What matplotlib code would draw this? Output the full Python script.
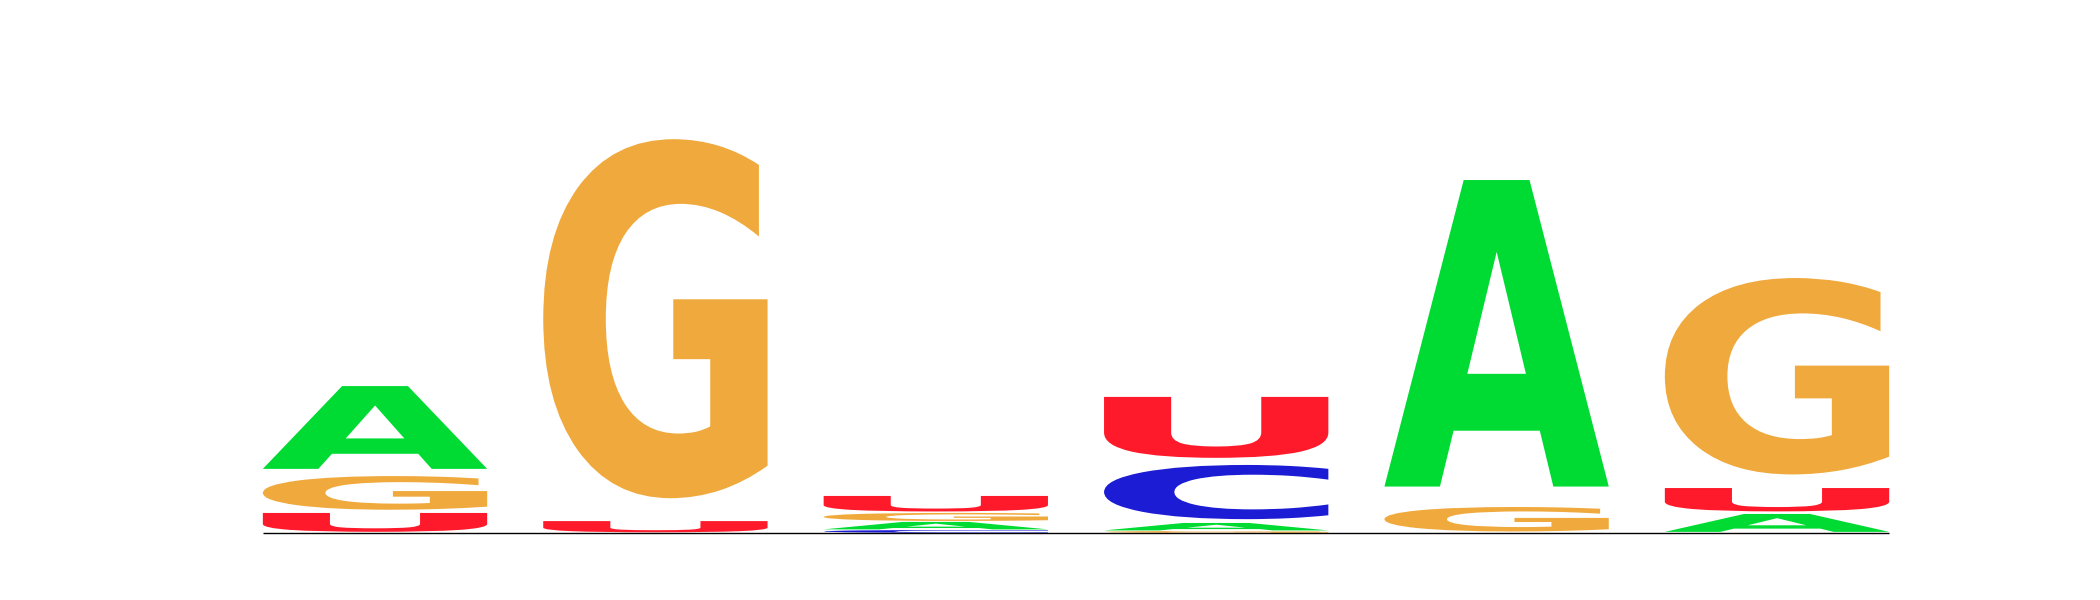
import numpy as np
import matplotlib
matplotlib.use('Agg')
import matplotlib.pyplot as plt
from matplotlib.textpath import TextPath
from matplotlib.font_manager import FontProperties
from matplotlib.patches import PathPatch
from matplotlib.transforms import Affine2D

# sequence positions
positions = [1, 2, 3, 4, 5, 6]

# letters of each stack, bottom to top, with their heights in bits
stack_letters = [['U', 'G', 'A'],
                 ['U', 'G'],
                 ['C', 'A', 'G', 'U'],
                 ['G', 'A', 'C', 'U'],
                 ['G', 'A'],
                 ['A', 'U', 'G']]
stack_heights = [[0.101, 0.180, 0.443],
                 [0.060, 1.921],
                 [0.015, 0.040, 0.043, 0.083],
                 [0.010, 0.040, 0.290, 0.326],
                 [0.131, 1.640],
                 [0.096, 0.125, 1.051]]

colors = {'A': '#00DB33', 'C': '#1C1CD4', 'G': '#F0A93C', 'U': '#FF1A2B'}

fp = FontProperties(family='DejaVu Sans', weight='bold')
letter_width = 0.8
pad = 0.055   # vertical gap inside each letter box (fraction of its height)


def draw_letter(ax, ch, x, y0, h):
    tp = TextPath((0, 0), ch, size=1, prop=fp)
    bb = tp.get_extents()
    sx = letter_width / bb.width
    sy = h * (1 - 2 * pad) / bb.height
    t = Affine2D().translate(-bb.x0, -bb.y0).scale(sx, sy).translate(x - letter_width / 2, y0 + pad * h)
    path = t.transform_path(tp)
    ax.add_patch(PathPatch(path, facecolor=colors[ch], edgecolor='none', lw=0))


fig = plt.figure(figsize=(21, 6), dpi=100)
ax = fig.add_axes([0, 0, 1, 1])

for pos, letters, heights in zip(positions, stack_letters, stack_heights):
    y = 0.0
    for ch, h in zip(letters, heights):
        draw_letter(ax, ch, pos, y, h)
        y += h

ax.plot([positions[0] - letter_width / 2, positions[-1] + letter_width / 2], [0, 0],
        color='black', lw=1.0, solid_capstyle='butt')

step_px = 280.4
x_left = 1 - 375 / step_px
ax.set_xlim(x_left, x_left + 2100 / step_px)
px_per_bit = 210
ax.set_ylim(-67 / px_per_bit, (600 - 67) / px_per_bit)
ax.axis('off')

fig.savefig('out.png', dpi=100, facecolor='white')
